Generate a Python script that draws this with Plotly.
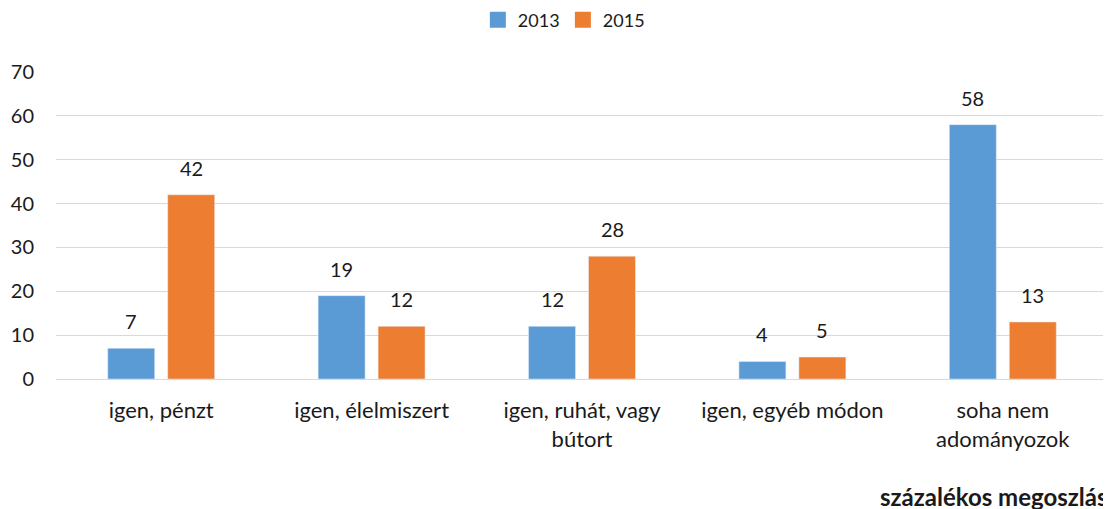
import plotly.graph_objects as go

categories = ["igen, pénzt", "igen, élelmiszert", "igen, ruhát, vagy<br>bútort",
              "igen, egyéb módon", "soha nem<br>adományozok"]
series_names = ["2013", "2015"]
values_2013 = [7, 19, 12, 4, 58]
values_2015 = [42, 12, 28, 5, 13]
colors = ["#5B9BD5", "#ED7D31"]
y_ticks = [0, 10, 20, 30, 40, 50, 60, 70]

FONT = "Lato, 'Open Sans', sans-serif"
TXT = "#1a1a1a"
FS = 20

fig = go.Figure()
for name, vals, col in zip(series_names, [values_2013, values_2015], colors):
    fig.add_trace(go.Bar(name=name, x=categories, y=vals, marker_color=col,
                         showlegend=False))
# legend entries with larger square swatches
for name, col in zip(series_names, colors):
    fig.add_trace(go.Scatter(name=name, x=[None], y=[None], mode="markers",
                             marker=dict(symbol="square", size=16, color=col),
                             showlegend=True))

annotations = []
for series, shift in ((values_2013, -30), (values_2015, 30)):
    for cat, v in zip(categories, series):
        annotations.append(dict(x=cat, y=v, xref="x", yref="y", text=str(v),
                                showarrow=False, xshift=shift, yshift=13,
                                yanchor="bottom",
                                font=dict(size=FS, color=TXT, family=FONT)))
annotations.append(dict(text="<b>százalékos megoszlás</b>", xref="paper", yref="paper",
                        x=0.781, xanchor="left", y=-0.384, yanchor="middle",
                        showarrow=False, font=dict(size=24, color=TXT, family=FONT)))

fig.update_layout(
    width=1111, height=509,
    margin=dict(l=48, r=11, t=64, b=138, autoexpand=False),
    paper_bgcolor="white", plot_bgcolor="white",
    barmode="group", bargap=0.43, bargroupgap=0.217,
    font=dict(family=FONT, size=FS, color=TXT),
    legend=dict(orientation="h", x=0.401, xanchor="left", y=1.169, yanchor="middle",
                font=dict(size=18, color=TXT), traceorder="normal",
                itemwidth=30, entrywidth=40),
    showlegend=True,
    annotations=annotations,
)
fig.update_yaxes(range=[0, 70], tickvals=y_ticks, showgrid=True, gridcolor="#D9D9D9",
                 gridwidth=1, zeroline=False, showline=False, ticks="",
                 tickfont=dict(size=FS, color=TXT), ticklabelstandoff=21)
fig.update_xaxes(showline=True, linecolor="#D9D9D9", linewidth=1, ticks="",
                 tickfont=dict(size=22, color=TXT), ticklabelstandoff=12)

fig.write_html("out.html")
